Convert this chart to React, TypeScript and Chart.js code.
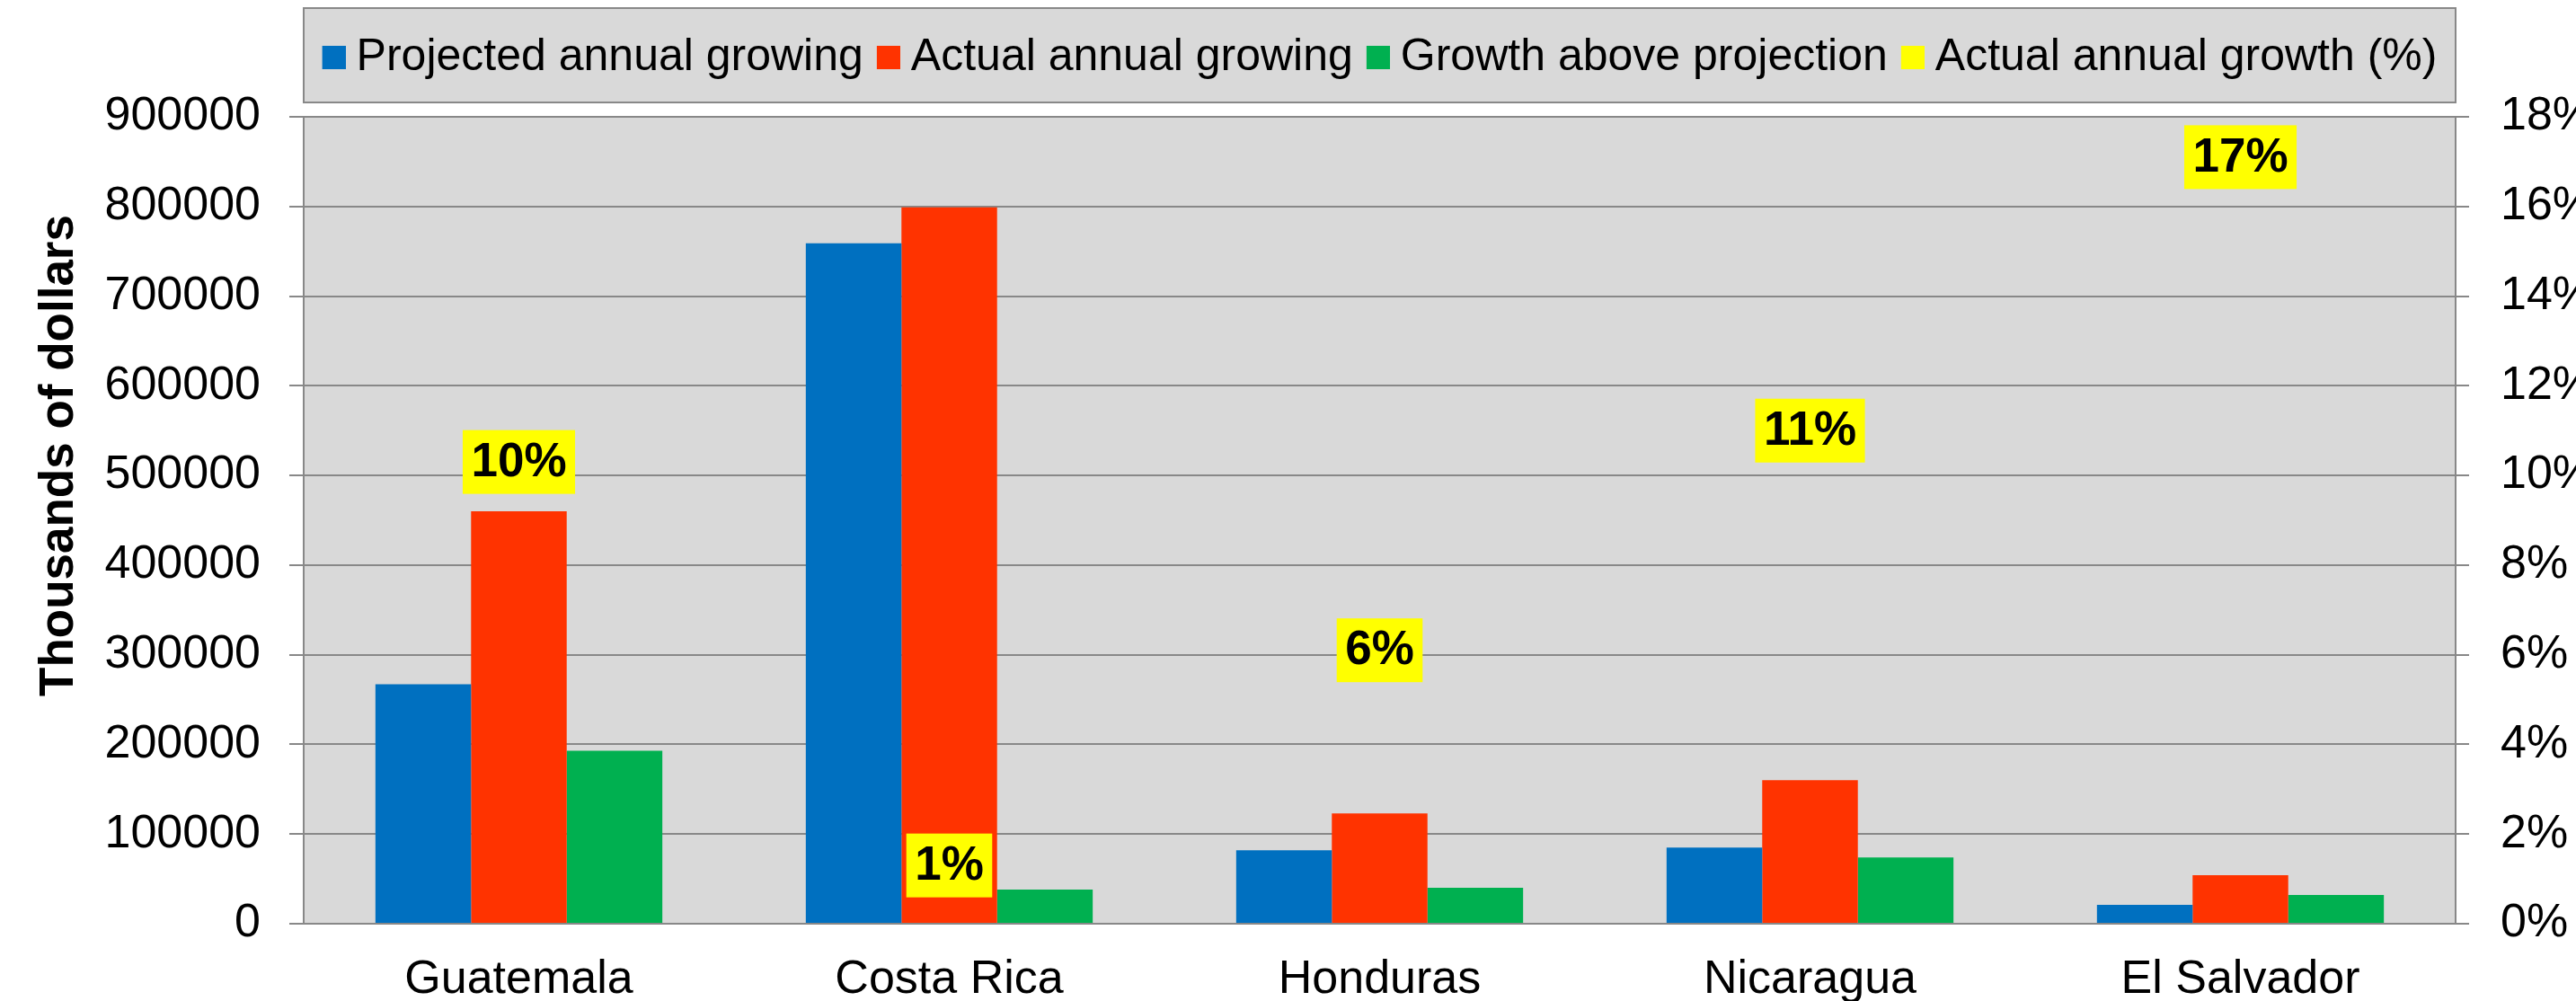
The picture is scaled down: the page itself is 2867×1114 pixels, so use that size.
import React, { useEffect, useRef } from 'react';
import { Chart, registerables } from 'chart.js';

Chart.register(...registerables);

const categories = ['Guatemala', 'Costa Rica', 'Honduras', 'Nicaragua', 'El Salvador'];
const projectedAnnualGrowing = [267000, 759000, 82000, 85000, 21000];
const actualAnnualGrowing = [460000, 799000, 123000, 160000, 54000];
const growthAboveProjection = [193000, 38000, 40000, 74000, 32000];
const actualAnnualGrowthPct = [10.3, 1.3, 6.1, 11.0, 17.1];

const seriesNames = [
  'Projected annual growing',
  'Actual annual growing',
  'Growth above projection',
  'Actual annual growth (%)',
];
const seriesColors = ['#0070C0', '#FF3300', '#00B050', '#FFFF00'];

const leftMin = 0;
const leftMax = 900000;
const leftStep = 100000;
const rightMin = 0;
const rightMax = 18;
const rightStep = 2;
const yTitle = 'Thousands of dollars';

const FONT = "'Liberation Sans', Arial, sans-serif";

function makeLegendSwatch(color: string): HTMLCanvasElement {
  // 39x26 image, coloured 26x26 square on its right part
  const c = document.createElement('canvas');
  c.width = 39;
  c.height = 26;
  const g = c.getContext('2d') as CanvasRenderingContext2D;
  g.fillStyle = color;
  g.fillRect(13, 0, 26, 26);
  return c;
}

const decorPlugin = {
  id: 'decor',
  beforeDraw(chart: any) {
    const { ctx, chartArea: a } = chart;
    ctx.save();
    ctx.fillStyle = '#ffffff';
    ctx.fillRect(0, 0, chart.width, chart.height);
    ctx.fillStyle = '#d9d9d9';
    ctx.fillRect(a.left, a.top, a.right - a.left, a.bottom - a.top);
    const lg = chart.legend;
    const top = lg.top - 15;
    const bottom = lg.bottom + 15;
    ctx.fillRect(a.left, top, a.right - a.left, bottom - top);
    ctx.strokeStyle = '#888888';
    ctx.lineWidth = 2;
    ctx.strokeRect(a.left, top, a.right - a.left, bottom - top);
    ctx.restore();
  },
  afterDraw(chart: any) {
    const { ctx } = chart;
    ctx.save();
    // percentage labels
    const meta = chart.getDatasetMeta(3);
    ctx.font = `bold 53px ${FONT}`;
    ctx.textAlign = 'center';
    ctx.textBaseline = 'middle';
    meta.data.forEach((pt: any, i: number) => {
      const text = Math.round(actualAnnualGrowthPct[i]) + '%';
      const w = ctx.measureText(text).width + 19;
      const h = 71;
      ctx.fillStyle = '#FFFF00';
      ctx.fillRect(pt.x - w / 2, pt.y - h / 2, w, h);
      ctx.fillStyle = '#000000';
      ctx.fillText(text, pt.x, pt.y + 1);
    });
    // left axis title
    ctx.translate(81, 507);
    ctx.rotate(-Math.PI / 2);
    ctx.font = `bold 53px ${FONT}`;
    ctx.textAlign = 'center';
    ctx.textBaseline = 'alphabetic';
    ctx.fillStyle = '#000000';
    ctx.fillText(yTitle, 0, 0);
    ctx.restore();
  },
};

export default function App() {
  const ref = useRef<HTMLCanvasElement>(null);
  useEffect(() => {
    document.body.style.margin = '0';
    document.body.style.overflow = 'hidden';
    Chart.defaults.font.family = FONT;
    const swatches = seriesColors.map(makeLegendSwatch);
    const defaultGen = (Chart.defaults.plugins.legend.labels as any).generateLabels;
    const chart = new Chart(ref.current as HTMLCanvasElement, {
      type: 'bar',
      data: {
        labels: categories,
        datasets: [
          {
            type: 'bar',
            label: seriesNames[0],
            data: projectedAnnualGrowing,
            backgroundColor: seriesColors[0],
            borderWidth: 0,
            yAxisID: 'y',
            categoryPercentage: 3 / 4.5,
            barPercentage: 1,
          },
          {
            type: 'bar',
            label: seriesNames[1],
            data: actualAnnualGrowing,
            backgroundColor: seriesColors[1],
            borderWidth: 0,
            yAxisID: 'y',
            categoryPercentage: 3 / 4.5,
            barPercentage: 1,
          },
          {
            type: 'bar',
            label: seriesNames[2],
            data: growthAboveProjection,
            backgroundColor: seriesColors[2],
            borderWidth: 0,
            yAxisID: 'y',
            categoryPercentage: 3 / 4.5,
            barPercentage: 1,
          },
          {
            type: 'line',
            label: seriesNames[3],
            data: actualAnnualGrowthPct,
            backgroundColor: seriesColors[3],
            borderColor: seriesColors[3],
            borderWidth: 0,
            showLine: false,
            pointRadius: 0,
            pointHoverRadius: 0,
            yAxisID: 'y1',
          } as any,
        ],
      },
      options: {
        animation: false,
        responsive: true,
        maintainAspectRatio: false,
        events: [],
        layout: { padding: { top: 24, left: 0, right: 0, bottom: 0 } },
        plugins: {
          tooltip: { enabled: false },
          legend: {
            display: true,
            position: 'top',
            fullSize: false,
            labels: {
              usePointStyle: true,
              pointStyleWidth: 13,
              boxWidth: 26,
              boxHeight: 26,
              padding: 15,
              color: '#000000',
              font: { size: 50, family: FONT },
              generateLabels: (c: any) =>
                defaultGen(c).map((it: any, i: number) => ({ ...it, pointStyle: swatches[i] })),
            },
          },
          title: {
            display: true,
            text: '',
            weight: 500,
            fullSize: false,
            padding: 0,
            font: { size: 31, lineHeight: 1 },
          } as any,
        },
        scales: {
          x: {
            grid: { display: false, drawTicks: false },
            border: { display: true, color: '#888888', width: 2 },
            ticks: {
              color: '#000000',
              font: { size: 52, family: FONT },
              padding: 31,
              maxRotation: 0,
              autoSkip: false,
            },
            afterFit: (s: any) => {
              s.height = 86;
            },
          },
          y: {
            position: 'left',
            min: leftMin,
            max: leftMax,
            ticks: {
              stepSize: leftStep,
              color: '#000000',
              font: { size: 52, family: FONT },
              padding: 32,
              callback: (v: any) => String(v),
            },
            grid: { color: '#888888', lineWidth: 2, tickLength: 16 },
            border: { color: '#888888', width: 2 },
            afterFit: (s: any) => {
              s.width = 338;
            },
          },
          y1: {
            position: 'right',
            min: rightMin,
            max: rightMax,
            ticks: {
              stepSize: rightStep,
              color: '#000000',
              font: { size: 52, family: FONT },
              padding: 35,
              callback: (v: any) => Math.round(Number(v)) + '%',
            },
            grid: { drawOnChartArea: false, color: '#888888', lineWidth: 2, tickLength: 15 },
            border: { color: '#888888', width: 2 },
            afterFit: (s: any) => {
              s.width = 134;
            },
          },
        },
      } as any,
      plugins: [decorPlugin],
    });
    return () => chart.destroy();
  }, []);
  return (
    <div style={{ position: 'relative', width: 2867, height: 1114 }}>
      <canvas ref={ref} />
    </div>
  );
}
